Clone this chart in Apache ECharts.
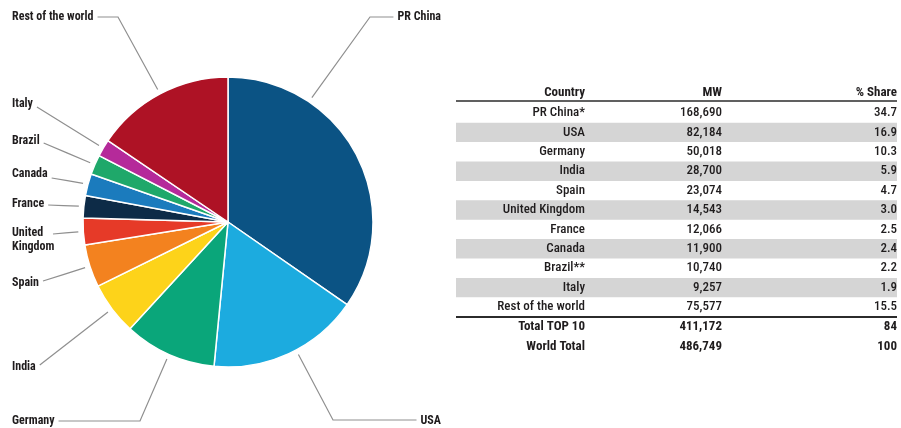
<!DOCTYPE html>
<html>
<head>
<meta charset="utf-8">
<script src="https://cdn.jsdelivr.net/npm/echarts@6/dist/echarts.min.js"></script>
<style>
  html, body { margin: 0; padding: 0; background: #fff; }
  #chart { width: 901px; height: 428px; }
</style>
</head>
<body>
<div id="chart"></div>
<script>
// Installed wind power capacity by country (MW)
const countries = ['PR China*', 'USA', 'Germany', 'India', 'Spain', 'United Kingdom', 'France', 'Canada', 'Brazil**', 'Italy', 'Rest of the world'];
const pieLabels = ['PR China', 'USA', 'Germany', 'India', 'Spain', 'United\nKingdom', 'France', 'Canada', 'Brazil', 'Italy', 'Rest of the world'];
const capacityMW = [168690, 82184, 50018, 28700, 23074, 14543, 12066, 11900, 10740, 9257, 75577];
const sharePct = ['34.7', '16.9', '10.3', '5.9', '4.7', '3.0', '2.5', '2.4', '2.2', '1.9', '15.5'];
const tableHeader = ['Country', 'MW', '% Share'];
const totalLabels = ['Total TOP 10', 'World Total'];
const totalMW = [411172, 486749];
const totalShare = ['84', '100'];

const sliceColors = ['#0b5384', '#1cabdf', '#0aa67a', '#fdd31a', '#f3821f', '#e63a28',
                     '#0d2b47', '#1b7bbd', '#1fa86a', '#b52a9a', '#ae1225'];

const FONT = '"Roboto Condensed", "DejaVu Sans Condensed", sans-serif';
const TEXT = '#1f1c1d';

// pie geometry
const CX = 228, CY = 222, R = 145;

// where each outside label sits and how its leader line bends
const labelSpots = [
  { side: 'right', x: 441, y: 17,  lineY: 17,  knee: 370, angle: 34 },
  { side: 'right', x: 441, y: 421, lineY: 420, knee: 333, angle: 152 },
  { side: 'left',  x: 12,  y: 421, lineY: 421, knee: 140 },
  { side: 'left',  x: 12,  y: 367, lineY: 365 },
  { side: 'left',  x: 12,  y: 283, lineY: 281 },
  { side: 'left',  x: 12,  y: 240, lineY: 234, end: 53 },
  { side: 'left',  x: 12,  y: 204, lineY: 205 },
  { side: 'left',  x: 12,  y: 174, lineY: 178 },
  { side: 'left',  x: 12,  y: 141, lineY: 143 },
  { side: 'left',  x: 12,  y: 104, lineY: 107 },
  { side: 'left',  x: 12,  y: 17,  lineY: 17,  knee: 118 }
];

// mid angle of every slice, degrees clockwise from 12 o'clock
const grand = capacityMW.reduce((a, b) => a + b, 0);
const midAngle = [];
(function () {
  let acc = 0;
  capacityMW.forEach(v => { midAngle.push((acc + v / 2) / grand * 360); acc += v; });
})();

const fmt = n => n.toLocaleString('en-US');

// ---- table built from the arrays ----
const colRight = [585, 722, 897];
const tableLeft = 456, tableRight = 897;
const headerY = 93, firstRowY = 113, rowStep = 19.4;
const table = [];

function cell(t, x, y, bold) {
  return { type: 'text', style: { text: t, x: x, y: y, align: 'right', verticalAlign: 'middle',
    fill: TEXT, fontFamily: FONT, fontSize: 13, fontWeight: bold ? 'bold' : 500 } };
}

tableHeader.forEach((h, c) => table.push(cell(h, colRight[c], headerY, true)));
countries.forEach((name, r) => {
  const y = firstRowY + r * rowStep;
  if (r % 2 === 1) {
    table.push({ type: 'rect', z: -1, shape: { x: tableLeft, y: y - rowStep / 2, width: tableRight - tableLeft, height: rowStep },
      style: { fill: '#d5d5d5' } });
  }
  [name, fmt(capacityMW[r]), sharePct[r]].forEach((t, c) => table.push(cell(t, colRight[c], y, false)));
});
const lastRowY = firstRowY + (countries.length - 1) * rowStep;
totalLabels.forEach((name, k) => {
  const y = lastRowY + 19.5 + k * 20;
  [name, fmt(totalMW[k]), totalShare[k]].forEach((t, c) => table.push(cell(t, colRight[c], y, true)));
});
table.push({ type: 'line', shape: { x1: tableLeft, y1: 101, x2: tableRight, y2: 101 }, style: { stroke: '#2b2b2b', lineWidth: 1.6 } });
table.push({ type: 'line', shape: { x1: tableLeft, y1: lastRowY + 10, x2: tableRight, y2: lastRowY + 10 }, style: { stroke: '#2b2b2b', lineWidth: 2 } });

const chart = echarts.init(document.getElementById('chart'), null, { renderer: 'canvas' });
chart.setOption({
  animation: false,
  backgroundColor: '#fff',
  graphic: table,
  series: [{
    type: 'pie',
    center: [CX, CY],
    radius: R,
    startAngle: 90,
    clockwise: true,
    avoidLabelOverlap: false,
    silent: true,
    itemStyle: { borderColor: '#fff', borderWidth: 1.5 },
    label: {
      show: true, position: 'outside', color: TEXT, fontFamily: FONT, fontSize: 12, lineHeight: 14,
      fontWeight: 'bold',
      formatter: p => p.name
    },
    labelLine: { show: true, lineStyle: { color: '#8f8f8f', width: 1.2 } },
    labelLayout: function (p) {
      const i = p.dataIndex, L = labelSpots[i];
      const w = p.labelRect.width;
      const a = (L.angle != null ? L.angle : midAngle[i]) * Math.PI / 180;
      const ax = CX + (R + 5) * Math.sin(a), ay = CY - (R + 5) * Math.cos(a);
      const ex = L.end != null ? L.end : (L.side === 'left' ? L.x + w + 4 : L.x - w - 4);
      const kx = L.knee != null ? L.knee : (ax + ex) / 2;
      const ky = L.knee != null ? L.lineY : (ay + L.lineY) / 2;
      return {
        x: L.x, y: L.y,
        align: L.side === 'left' ? 'left' : 'right',
        verticalAlign: 'middle',
        labelLinePoints: [[ax, ay], [kx, ky], [ex, L.lineY]]
      };
    },
    data: capacityMW.map((v, i) => ({ name: pieLabels[i], value: v, itemStyle: { color: sliceColors[i] } }))
  }]
});
</script>
</body>
</html>
